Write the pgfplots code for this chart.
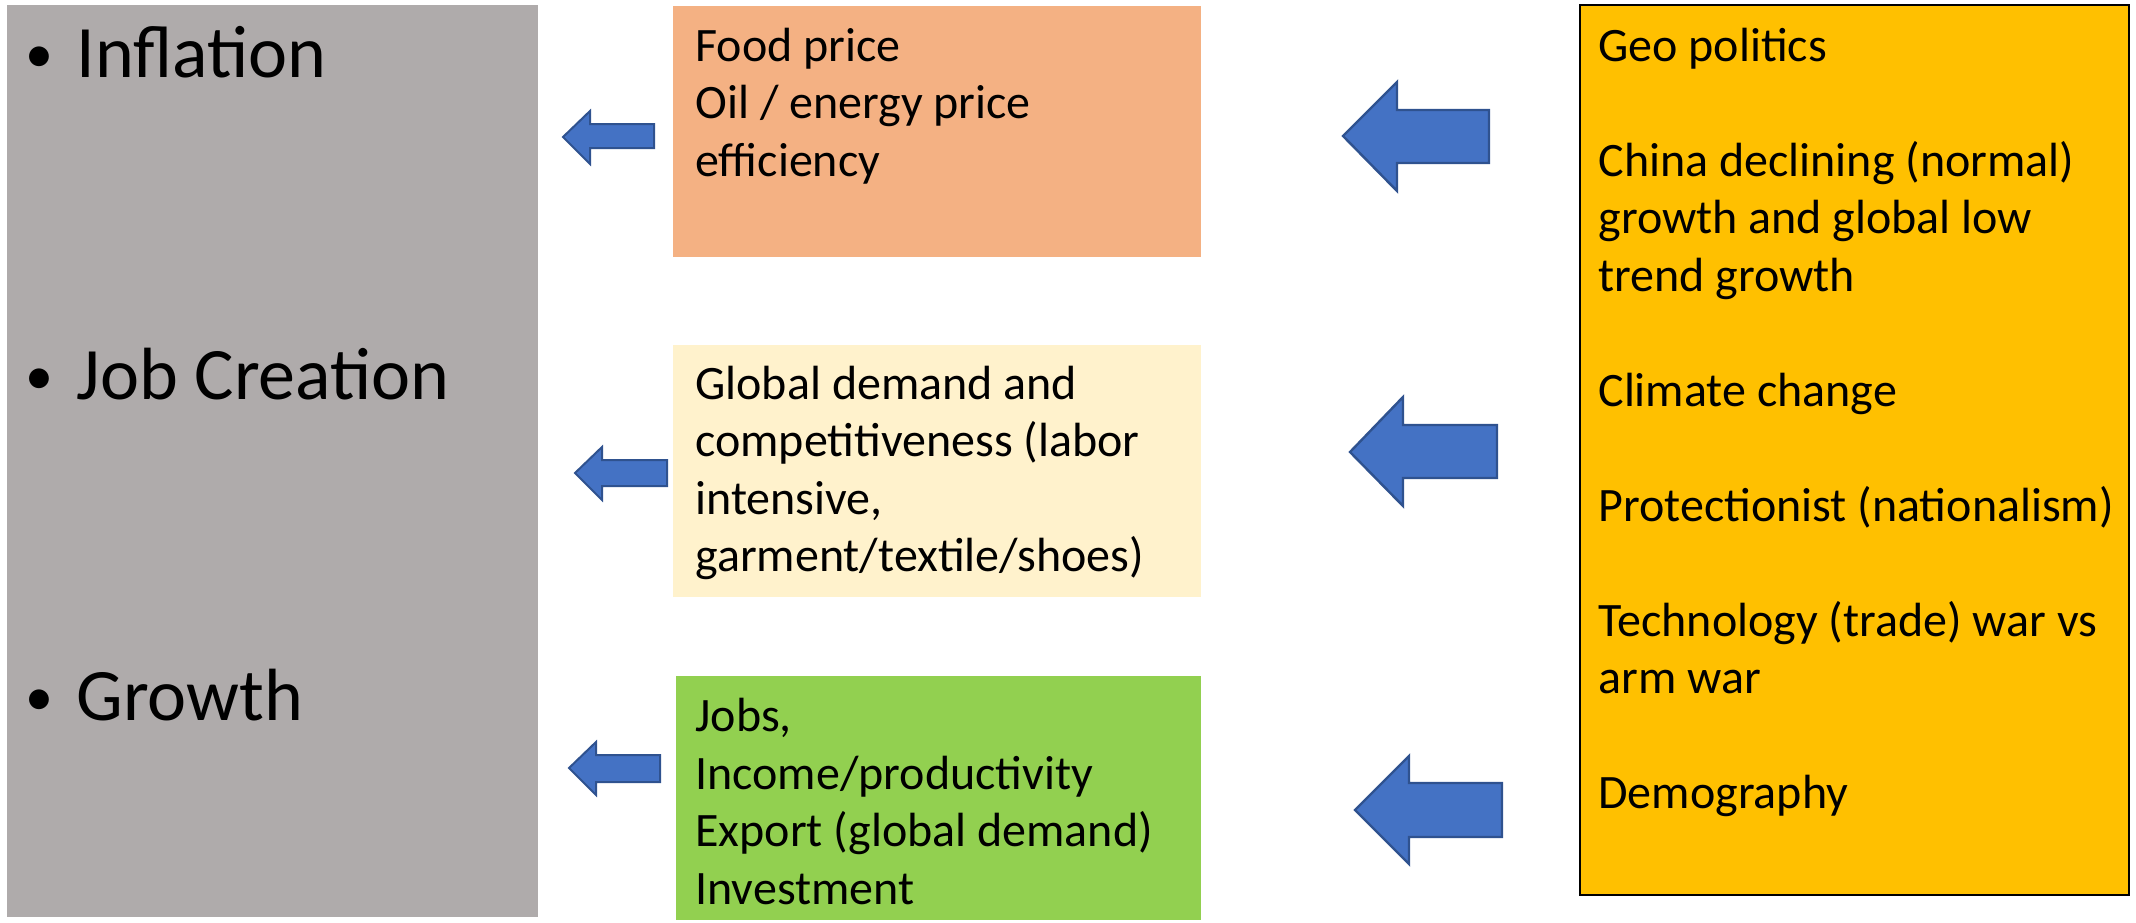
\documentclass[border=0pt]{standalone}
\usepackage{pgfplots}
\pgfplotsset{compat=1.18}
\usepackage{fontspec}
\setmainfont{Carlito}
\definecolor{boxgray}{HTML}{AFABAB}
\definecolor{boxorange}{HTML}{F4B183}
\definecolor{boxcream}{HTML}{FFF2CC}
\definecolor{boxgreen}{HTML}{92D050}
\definecolor{boxyellow}{HTML}{FFC000}
\definecolor{arrfill}{HTML}{4472C4}
\definecolor{arrline}{HTML}{2F528F}
\tikzset{
  big/.style={anchor=base west, inner sep=0pt, text=black, font=\fontsize{37pt}{44pt}\selectfont},
  bul/.style={anchor=base, inner sep=0pt, text=black, font=\fontsize{28pt}{34pt}\selectfont},
  lbl/.style={anchor=base west, inner sep=0pt, text=black, font=\fontsize{24pt}{28.75pt}\selectfont},
}
\begin{document}
\begin{tikzpicture}
\begin{axis}[
  width=1068pt, height=461pt, scale only axis,
  xmin=0, xmax=2136, ymin=0, ymax=922, y dir=reverse,
  hide axis, clip=false,
]
% boxes
\addplot[fill=boxgray, draw=none, mark=none] coordinates {(7,5) (538,5) (538,917) (7,917)} -- cycle;
\addplot[fill=boxorange, draw=none, mark=none] coordinates {(673,6) (1201,6) (1201,257) (673,257)} -- cycle;
\addplot[fill=boxcream, draw=none, mark=none] coordinates {(673,345) (1201,345) (1201,597) (673,597)} -- cycle;
\addplot[fill=boxgreen, draw=none, mark=none] coordinates {(676,676) (1201,676) (1201,920) (676,920)} -- cycle;
\addplot[fill=boxyellow, draw=black, line width=1pt, mark=none] coordinates {(1580,5) (2129,5) (2129,895) (1580,895)} -- cycle;
% big arrows
\addplot[fill=arrfill, draw=arrline, line width=1.2pt, mark=none] coordinates {(1343,136) (1397,82) (1397,110) (1489,110) (1489,163) (1397,163) (1397,191)} -- cycle;
\addplot[fill=arrfill, draw=arrline, line width=1.2pt, mark=none] coordinates {(1350,452) (1403,397) (1403,425) (1497,425) (1497,478) (1403,478) (1403,506)} -- cycle;
\addplot[fill=arrfill, draw=arrline, line width=1.2pt, mark=none] coordinates {(1355,810) (1409,756) (1409,783) (1502,783) (1502,837) (1409,837) (1409,864)} -- cycle;
% small arrows
\addplot[fill=arrfill, draw=arrline, line width=1pt, mark=none] coordinates {(563,137) (590,111) (590,124) (654,124) (654,148) (590,148) (590,164)} -- cycle;
\addplot[fill=arrfill, draw=arrline, line width=1pt, mark=none] coordinates {(575,473) (602,447) (602,460) (667,460) (667,486) (602,486) (602,500)} -- cycle;
\addplot[fill=arrfill, draw=arrline, line width=1pt, mark=none] coordinates {(569,768) (596,742) (596,755) (660,755) (660,782) (596,782) (596,795)} -- cycle;
% gray box text
\node[bul] at (axis cs:39,72) {•};
\node[big] at (axis cs:76,77) {Inflation};
\node[bul] at (axis cs:39,394) {•};
\node[big] at (axis cs:76,399) {Job Creation};
\node[bul] at (axis cs:39,715) {•};
\node[big] at (axis cs:76,720) {Growth};
% orange
\node[lbl] at (axis cs:695,61) {Food price};
\node[lbl] at (axis cs:695,118.5) {Oil / energy price};
\node[lbl] at (axis cs:695,176) {efficiency};
% cream
\node[lbl] at (axis cs:695,399) {Global demand and};
\node[lbl] at (axis cs:695,456.5) {competitiveness (labor};
\node[lbl] at (axis cs:695,514) {intensive,};
\node[lbl] at (axis cs:695,571.5) {garment/textile/shoes)};
% green
\node[lbl] at (axis cs:695,731.5) {Jobs,};
\node[lbl] at (axis cs:695,789) {Income/productivity};
\node[lbl] at (axis cs:695,846.5) {Export (global demand)};
\node[lbl] at (axis cs:695,904) {Investment};
% yellow
\node[lbl] at (axis cs:1598,61) {Geo politics};
\node[lbl] at (axis cs:1598,176) {China declining (normal)};
\node[lbl] at (axis cs:1598,233.5) {growth and global low};
\node[lbl] at (axis cs:1598,291) {trend growth};
\node[lbl] at (axis cs:1598,406) {Climate change};
\node[lbl] at (axis cs:1598,521) {Protectionist (nationalism)};
\node[lbl] at (axis cs:1598,636) {Technology (trade) war vs};
\node[lbl] at (axis cs:1598,693.5) {arm war};
\node[lbl] at (axis cs:1598,808.5) {Demography};
\end{axis}
\pgfresetboundingbox
\useasboundingbox (current axis.south west) rectangle (current axis.north east);
\end{tikzpicture}
\end{document}
